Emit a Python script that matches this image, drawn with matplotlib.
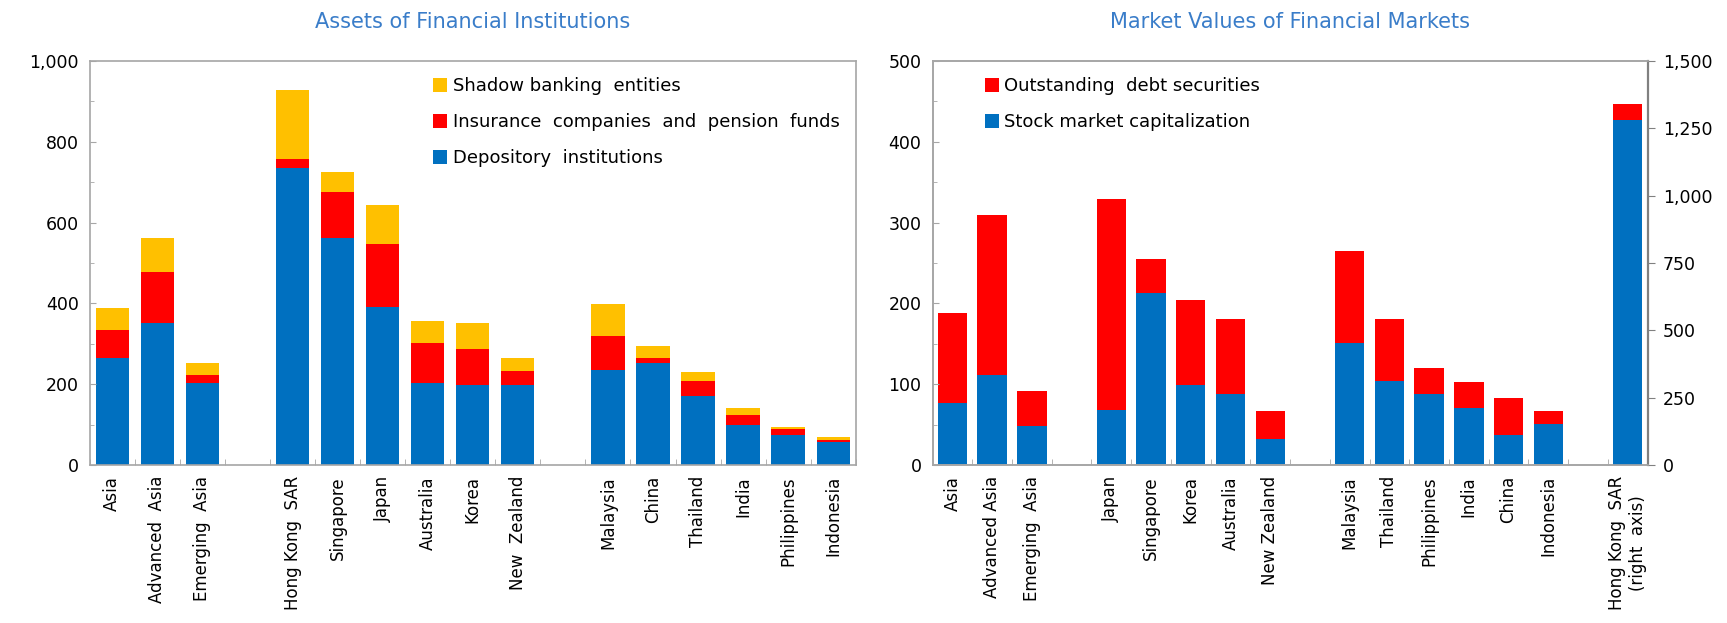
import matplotlib
matplotlib.use("Agg")
import matplotlib.pyplot as plt
from matplotlib.ticker import FuncFormatter, MultipleLocator, FixedLocator
import numpy as np

# ---- Left panel data: Assets of Financial Institutions ----
left_cats = ["Asia", "Advanced  Asia", "Emerging  Asia", "",
             "Hong Kong  SAR", "Singapore", "Japan", "Australia", "Korea", "New  Zealand", "",
             "Malaysia", "China", "Thailand", "India", "Philippines", "Indonesia"]
depository = [265, 351, 203, 0, 735, 562, 391, 203, 198, 198, 0, 235, 252, 171, 99, 74, 57]
insurance  = [69, 127, 20, 0, 22, 114, 156, 99, 89, 35, 0, 84, 13, 37, 25, 15, 5]
shadow     = [55, 84, 29, 0, 171, 49, 97, 54, 64, 32, 0, 79, 30, 22, 17, 5, 7]

# ---- Right panel data: Market Values of Financial Markets ----
right_cats = ["Asia", "Advanced Asia", "Emerging  Asia", "",
              "Japan", "Singapore", "Korea", "Australia", "New Zealand", "",
              "Malaysia", "Thailand", "Philippines", "India", "China", "Indonesia", "",
              "Hong Kong  SAR\n(right  axis)"]
stock = [77, 111, 48, 0, 68, 213, 99, 88, 32, 0, 151, 104, 88, 71, 37, 51, 0, 0]
debt  = [111, 199, 44, 0, 261, 42, 105, 93, 35, 0, 114, 77, 32, 32, 46, 16, 0, 0]
hk_stock = 1281   # right axis
hk_debt = 59      # right axis

BLUE = "#0070C0"
RED = "#FF0000"
YELLOW = "#FFC000"
TITLE = "#3A7DC9"
FRAME = "#A6A6A6"

plt.rcParams['font.family'] = ['DejaVu Sans']
fig = plt.figure(figsize=(17.27, 6.23), dpi=100)

comma = FuncFormatter(lambda v, p: f"{int(v):,}")

# ---------------- Left panel ----------------
ax1 = fig.add_axes([0.052, 0.2536, 0.4435, 0.6485])
x1 = np.arange(len(left_cats))
d = np.array(depository); i_ = np.array(insurance); s = np.array(shadow)
w = 0.74
b_dep = ax1.bar(x1, d, w, color=BLUE, label="Depository  institutions")
b_ins = ax1.bar(x1, i_, w, bottom=d, color=RED, label="Insurance  companies  and  pension  funds")
b_sha = ax1.bar(x1, s, w, bottom=d + i_, color=YELLOW, label="Shadow banking  entities")
ax1.set_xlim(-0.5, len(left_cats) - 0.5)
ax1.set_ylim(0, 1000)
ax1.yaxis.set_major_locator(MultipleLocator(200))
ax1.yaxis.set_minor_locator(MultipleLocator(100))
ax1.yaxis.set_major_formatter(comma)
ax1.set_xticks(x1)
ax1.set_xticklabels(left_cats, rotation=90, fontsize=12)
ax1.xaxis.set_minor_locator(FixedLocator(np.arange(-0.5, len(left_cats), 1.0)))
ax1.tick_params(axis='x', which='major', length=0, pad=8)
ax1.tick_params(axis='x', which='minor', length=4, direction='in', color=FRAME)
ax1.tick_params(axis='y', which='both', direction='in', color=FRAME, labelsize=12.5)
ax1.tick_params(axis='y', which='major', length=4, pad=8)
ax1.tick_params(axis='y', which='minor', length=3)
for sp in ax1.spines.values():
    sp.set_color(FRAME)
    sp.set_linewidth(1.2)
ax1.legend(handles=[b_sha, b_ins, b_dep], loc='upper right', frameon=False,
           fontsize=13, handlelength=0.8, handleheight=0.8, handletextpad=0.3,
           labelspacing=1.0, bbox_to_anchor=(1.0, 1.0))
ax1.set_title("Assets of Financial Institutions", color=TITLE, fontsize=15, pad=24)

# ---------------- Right panel ----------------
ax2 = fig.add_axes([0.540, 0.2536, 0.414, 0.6485])
x2 = np.arange(len(right_cats))
st = np.array(stock); db = np.array(debt)
w2 = 0.74
r_st = ax2.bar(x2, st, w2, color=BLUE, label="Stock market capitalization")
r_db = ax2.bar(x2, db, w2, bottom=st, color=RED, label="Outstanding  debt securities")
ax2.set_xlim(-0.5, len(right_cats) - 0.5)
ax2.set_ylim(0, 500)
ax2.yaxis.set_major_locator(MultipleLocator(100))
ax2.yaxis.set_minor_locator(MultipleLocator(50))
ax2.set_xticks(x2)
ax2.set_xticklabels(right_cats, rotation=90, fontsize=12)
ax2.xaxis.set_minor_locator(FixedLocator(np.arange(-0.5, len(right_cats), 1.0)))
ax2.tick_params(axis='x', which='major', length=0, pad=8)
ax2.tick_params(axis='x', which='minor', length=4, direction='in', color=FRAME)
ax2.tick_params(axis='y', which='both', direction='in', color=FRAME, labelsize=12.5)
ax2.tick_params(axis='y', which='major', length=4, pad=8)
ax2.tick_params(axis='y', which='minor', length=3)
for sp in ax2.spines.values():
    sp.set_color(FRAME)
    sp.set_linewidth(1.2)

ax3 = ax2.twinx()
hk_x = x2[-1]
ax3.bar([hk_x], [hk_stock], w2, color=BLUE)
ax3.bar([hk_x], [hk_debt], w2, bottom=[hk_stock], color=RED)
ax3.set_ylim(0, 1500)
ax3.yaxis.set_major_locator(MultipleLocator(250))
ax3.yaxis.set_major_formatter(comma)
ax3.tick_params(axis='y', direction='out', length=5, color="#808080", labelsize=12.5, pad=6)
for name, sp in ax3.spines.items():
    sp.set_color(FRAME)
    sp.set_linewidth(1.2)
ax3.spines['right'].set_color("#808080")
ax3.spines['right'].set_linewidth(1.6)

ax2.legend(handles=[r_db, r_st], loc='upper left', frameon=False,
           fontsize=13, handlelength=0.8, handleheight=0.8, handletextpad=0.3,
           labelspacing=1.0, bbox_to_anchor=(0.05, 1.0))
ax2.set_title("Market Values of Financial Markets", color=TITLE, fontsize=15, pad=24)

fig.savefig("out.png", dpi=100)
